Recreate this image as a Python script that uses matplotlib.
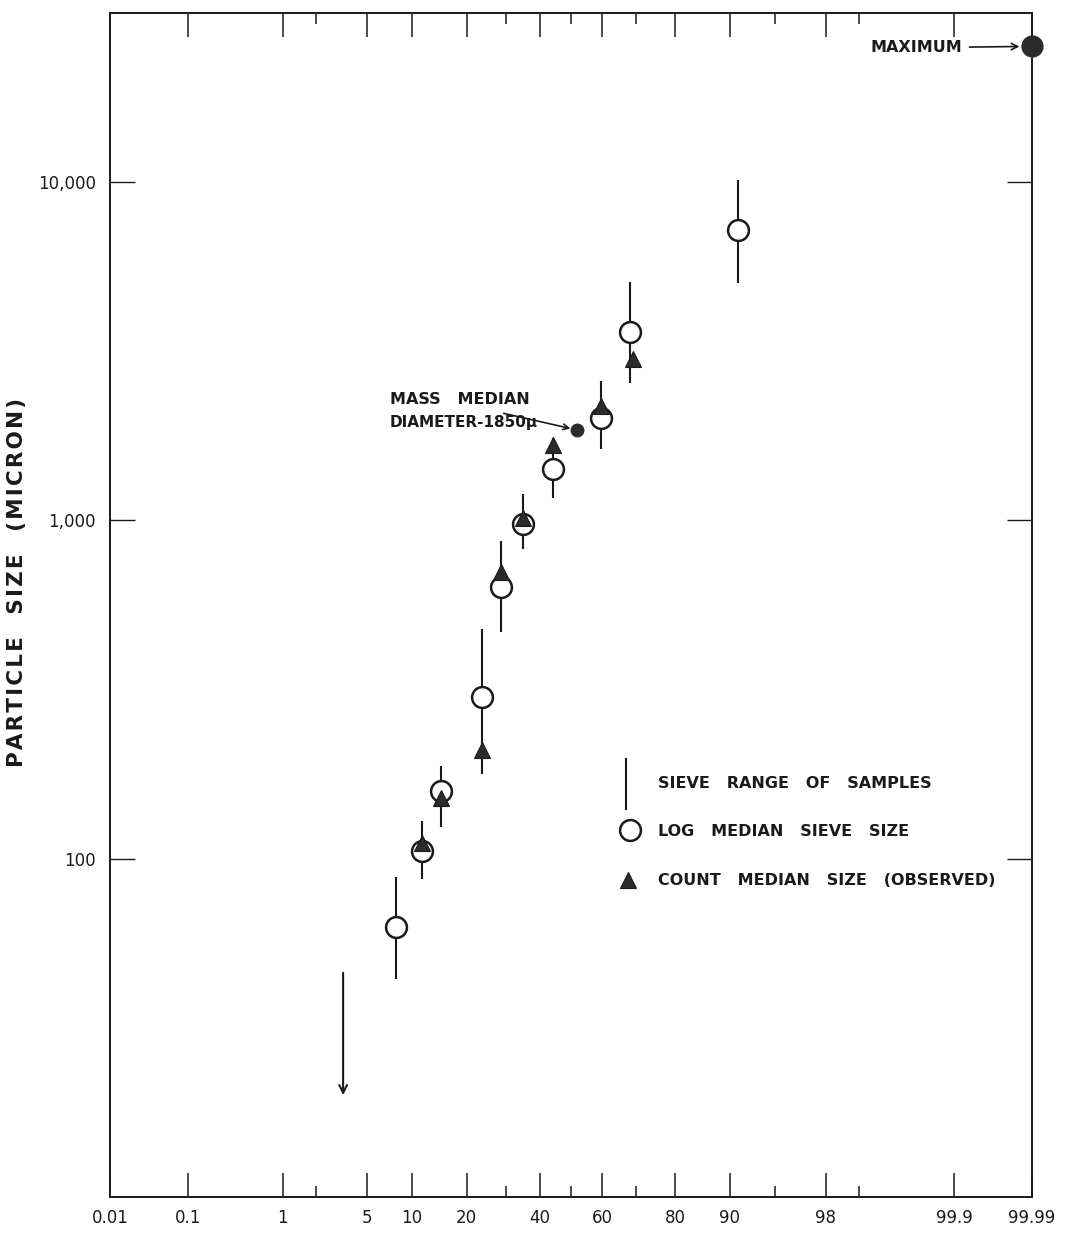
import math
import numpy as np
import matplotlib
matplotlib.use("Agg")
import matplotlib.pyplot as plt
from matplotlib.lines import Line2D
from matplotlib.ticker import FixedLocator, FixedFormatter, NullLocator

# ---- data: cumulative percent (probability scale) vs particle size (micron) ----
sieve_pct = [7.9, 11.5, 14.7, 23.6, 28.6, 34.9, 44.2, 59.6, 68.3, 91.1]
log_median_size = [63, 105, 159, 301, 634, 973, 1416, 2005, 3600, 7200]
sieve_low = [44, 87, 124, 178, 467, 821, 1161, 1622, 2541, 5020]
sieve_high = [88, 129, 188, 479, 867, 1195, 1750, 2576, 5060, 10140]

count_pct = [11.5, 14.7, 23.6, 28.6, 34.9, 44.2, 59.6, 69.1]
count_median_size = [111, 151, 209, 702, 1014, 1667, 2173, 2993]

mass_median_pct = 52.0
mass_median_size = 1850

maximum_pct = 99.99
maximum_size = 25200

lower_tail_pct = 3.3
lower_tail_from = 46
lower_tail_to = 20

x_major = [0.01, 0.1, 1, 5, 10, 20, 40, 60, 80, 90, 98, 99.9, 99.99]
x_major_labels = ["0.01", "0.1", "1", "5", "10", "20", "40", "60", "80",
                  "90", "98", "99.9", "99.99"]
x_minor = [2, 30, 50, 70, 95, 99]
y_ticks = [100, 1000, 10000]
y_tick_labels = ["100", "1,000", "10,000"]


# ---- normal probability scale ----
_A = [-3.969683028665376e+01, 2.209460984245205e+02, -2.759285104469687e+02,
      1.383577518672690e+02, -3.066479806614716e+01, 2.506628277459239e+00]
_B = [-5.447609879822406e+01, 1.615858368580409e+02, -1.556989798598866e+02,
      6.680131188771972e+01, -1.328068155288572e+01]
_C = [-7.784894002430293e-03, -3.223964580411365e-01, -2.400758277161838e+00,
      -2.549671010405935e+00, 4.374664141464968e+00, 2.938163982698783e+00]
_D = [7.784695709041462e-03, 3.224671290700398e-01, 2.445134137142996e+00,
      3.754408661907416e+00]


def _tail(q):
    return ((((((_C[0] * q + _C[1]) * q + _C[2]) * q + _C[3]) * q + _C[4]) * q + _C[5]) /
            ((((_D[0] * q + _D[1]) * q + _D[2]) * q + _D[3]) * q + 1))


def _ppf(p):
    p = np.asarray(p, dtype=float)
    out = np.empty_like(p)
    lo = p < 0.02425
    hi = p > 1 - 0.02425
    mid = ~(lo | hi)
    if np.any(mid):
        q = p[mid] - 0.5
        r = q * q
        num = (((((_A[0] * r + _A[1]) * r + _A[2]) * r + _A[3]) * r + _A[4]) * r + _A[5]) * q
        den = ((((_B[0] * r + _B[1]) * r + _B[2]) * r + _B[3]) * r + _B[4]) * r + 1
        out[mid] = num / den
    if np.any(lo):
        out[lo] = _tail(np.sqrt(-2 * np.log(p[lo])))
    if np.any(hi):
        out[hi] = -_tail(np.sqrt(-2 * np.log(1 - p[hi])))
    return out


_erf = np.frompyfunc(math.erf, 1, 1)


def prob_forward(x):
    p = np.clip(np.asarray(x, dtype=float) / 100.0, 1e-9, 1 - 1e-9)
    return _ppf(p)


def prob_inverse(z):
    z = np.asarray(z, dtype=float)
    return 50.0 * (1.0 + _erf(z / math.sqrt(2.0)).astype(float))


# ---- figure ----
plt.rcParams['font.family'] = ['DejaVu Sans']
fig = plt.figure(figsize=(10.67, 12.36), dpi=100)
ax = fig.add_axes([0.1031, 0.0316, 0.8641, 0.9579])

ax.set_xscale('function', functions=(prob_forward, prob_inverse))
ax.set_yscale('log')
ax.set_xlim(0.01, 99.99)
ax.set_ylim(10, 10 ** 4.5)

ink = '#1a1a1a'
fill = '#2b2b2b'
txt_kw = dict(fontsize=11.5, fontweight='bold', color=ink)

# sieve ranges
ax.vlines(sieve_pct, sieve_low, sieve_high, colors=ink, linewidth=1.5, zorder=2)
# log median sieve size
ax.plot(sieve_pct, log_median_size, linestyle='none', marker='o', markersize=15,
        markerfacecolor='white', markeredgecolor=ink, markeredgewidth=1.8, zorder=3)
# count median size
ax.plot(count_pct, count_median_size, linestyle='none', marker='^', markersize=12,
        markerfacecolor=fill, markeredgecolor=ink, markeredgewidth=0.8, zorder=4)

# mass median diameter
ax.plot([mass_median_pct], [mass_median_size], linestyle='none', marker='o',
        markersize=9, color=fill, zorder=4)
ax.text(7.2, 2270, "MASS   MEDIAN", ha='left', va='center', **txt_kw)
ax.text(7.2, 1950, "DIAMETER-1850\u03bc", ha='left', va='center',
        fontsize=11, fontweight='bold', color=ink)
ax.annotate("", xy=(mass_median_pct, mass_median_size), xytext=(-53, 12),
            textcoords='offset points',
            arrowprops=dict(arrowstyle='->', lw=1.2, color=ink, shrinkA=0, shrinkB=5))

# maximum
ax.plot([maximum_pct], [maximum_size], linestyle='none', marker='o', markersize=15,
        color=fill, zorder=5, clip_on=False)
ax.annotate("MAXIMUM", xy=(maximum_pct, maximum_size), xytext=(-50, -1),
            textcoords='offset points', ha='right', va='center',
            arrowprops=dict(arrowstyle='->', lw=1.2, color=ink, shrinkA=3, shrinkB=9),
            **txt_kw)

# lower tail arrow
ax.annotate("", xy=(lower_tail_pct, lower_tail_to), xytext=(lower_tail_pct, lower_tail_from),
            arrowprops=dict(arrowstyle='->', lw=1.5, color=ink, shrinkA=0, shrinkB=0,
                            mutation_scale=14))

# key, placed in axes fraction
tr = ax.transAxes
ax.add_line(Line2D([0.560, 0.560], [0.328, 0.370], transform=tr, color=ink, lw=1.5))
ax.add_line(Line2D([0.564], [0.310], transform=tr, linestyle='none', marker='o',
                   markersize=15, markerfacecolor='white', markeredgecolor=ink,
                   markeredgewidth=1.8))
ax.add_line(Line2D([0.562], [0.268], transform=tr, linestyle='none', marker='^',
                   markersize=12, markerfacecolor=fill, markeredgecolor=ink,
                   markeredgewidth=0.8))
key_text = ["SIEVE   RANGE   OF   SAMPLES", "LOG   MEDIAN   SIEVE   SIZE",
            "COUNT   MEDIAN   SIZE   (OBSERVED)"]
for ty, txt in zip([0.349, 0.309, 0.267], key_text):
    ax.text(0.594, ty, txt, transform=tr, ha='left', va='center', **txt_kw)

# axes, ticks
for s in ax.spines.values():
    s.set_linewidth(1.4)
    s.set_color(ink)

ax.xaxis.set_major_locator(FixedLocator(x_major))
ax.xaxis.set_major_formatter(FixedFormatter(x_major_labels))
ax.xaxis.set_minor_locator(FixedLocator(x_minor))
ax.yaxis.set_major_locator(FixedLocator(y_ticks))
ax.yaxis.set_major_formatter(FixedFormatter(y_tick_labels))
ax.yaxis.set_minor_locator(NullLocator())

ax.tick_params(axis='x', which='major', direction='in', length=17, width=1.1,
               top=True, bottom=True, labelsize=12, pad=9, colors=ink)
ax.tick_params(axis='x', which='minor', direction='in', length=8, width=1.1,
               top=True, bottom=True, colors=ink)
ax.tick_params(axis='y', which='major', direction='in', length=18, width=1.0,
               left=True, right=True, labelsize=12, pad=10, colors=ink)

hair = "\u200a"
ylabel = "   ".join(hair.join(word) for word in ["PARTICLE", "SIZE", "(MICRON)"])
ax.set_ylabel(ylabel, fontsize=15.5, fontweight='bold', color=ink)
ax.yaxis.set_label_coords(-0.090, 0.519)

fig.savefig("out.png", dpi=100, facecolor='white')
